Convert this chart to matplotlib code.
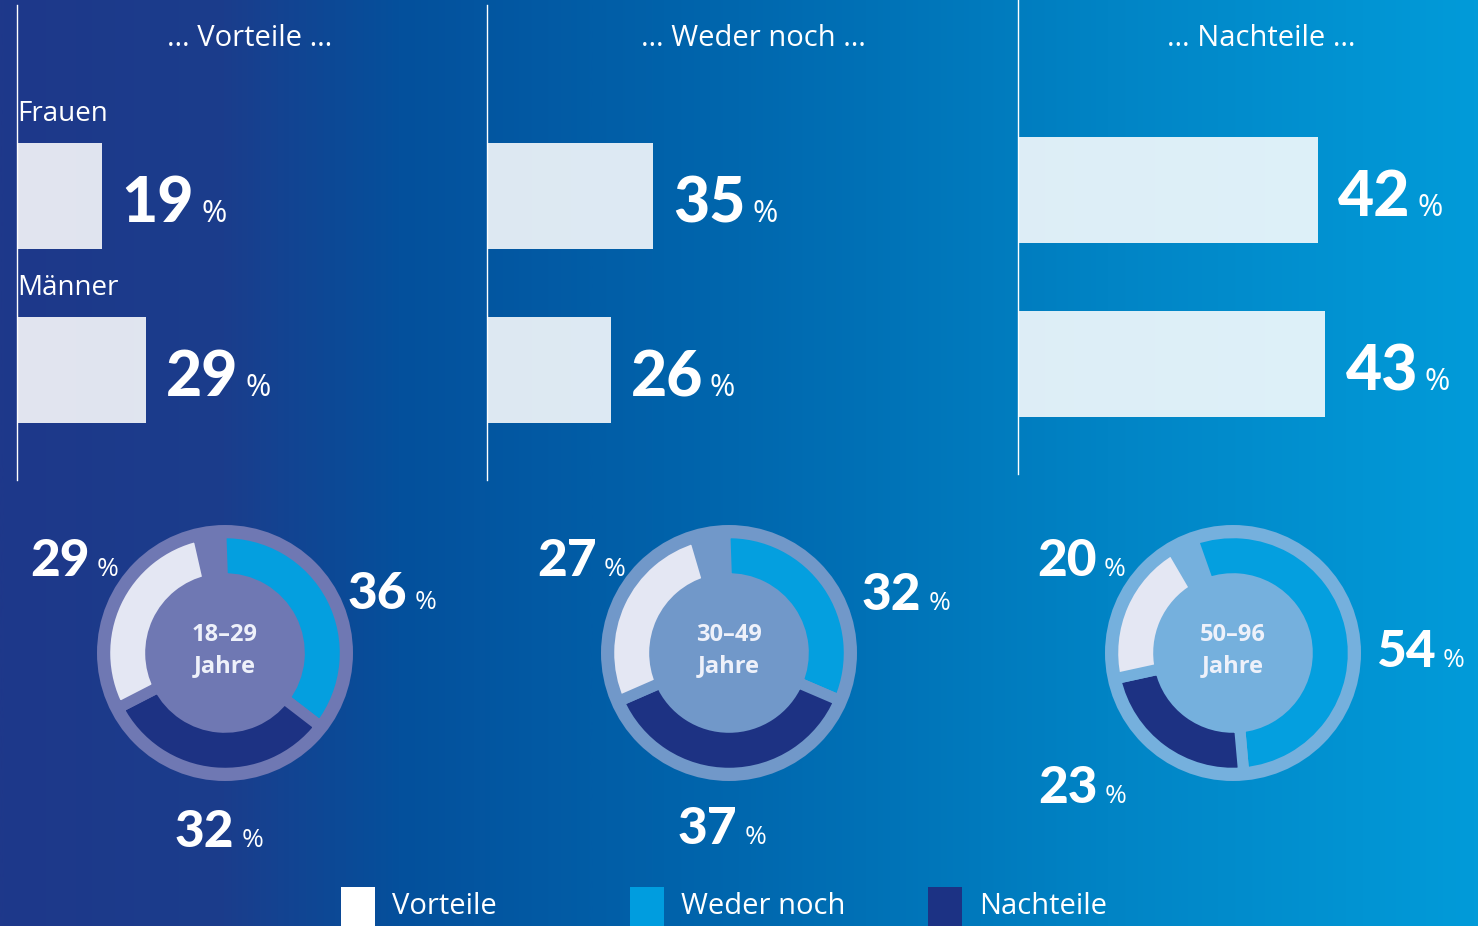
import matplotlib
matplotlib.use('Agg')
import matplotlib.pyplot as plt
import numpy as np
from matplotlib.colors import LinearSegmentedColormap
from matplotlib.patches import Circle, Rectangle

# data
answers = ['Vorteile', 'Weder noch', 'Nachteile']
genders = ['Frauen', 'Männer']
gender_values = {
    'Vorteile': [19, 29],
    'Weder noch': [35, 26],
    'Nachteile': [42, 43],
}
age_groups = ['18–29\nJahre', '30–49\nJahre', '50–96\nJahre']
vorteile_age = [29, 27, 20]
weder_age = [36, 32, 54]
nachteile_age = [32, 37, 23]

W, H = 1478, 926
plt.rcParams['font.family'] = ['Open Sans', 'DejaVu Sans']
num_font = ['Lato', 'DejaVu Sans']

c_white = '#e4e7f3'
c_cyan = '#049fdf'
c_navy = '#1d3283'
txt = 'white'

fig = plt.figure(figsize=(W / 100, H / 100), dpi=100)


def px_axes(x0, y0, w, h):
    # axes placed in pixel coords, y from top
    return fig.add_axes([x0 / W, 1 - (y0 + h) / H, w / W, h / H])


# background gradient
bg = px_axes(0, 0, W, H)
cmap = LinearSegmentedColormap.from_list('bg', [
    (0.0, '#1e388a'), (0.15, '#1b3d8c'), (0.27, '#04509c'),
    (0.5, '#0067ae'), (0.75, '#0184c5'), (1.0, '#029bd9')])
grad = np.linspace(0, 1, 512)[None, :]
bg.imshow(grad, cmap=cmap, aspect='auto', extent=[0, W, H, 0])
bg.set_xlim(0, W)
bg.set_ylim(H, 0)
bg.axis('off')

renderer = fig.canvas.get_renderer()


def value_label(x, y, value, size, pct_size, gap=7):
    # big bold number plus small % sign, x/y in background pixel coords (baseline)
    t = bg.text(x, y, str(value), fontsize=size, fontweight=900, color=txt,
                family=num_font, ha='left', va='baseline')
    bb = t.get_window_extent(renderer=renderer)
    xr, _ = bg.transData.inverted().transform((bb.x1 + gap, bb.y0))
    bg.text(xr, y, '%', fontsize=pct_size, color=txt, ha='left', va='baseline')


# bar panels
panel_x = [17, 487, 1018]
panel_dy = [0, 0, -6]
panel_scale = [4.45, 4.75, 7.15]   # px per percent
panel_w = 440
to_bg = bg.transData.inverted()
for i, ans in enumerate(answers):
    ax = px_axes(panel_x[i], 5 + panel_dy[i], panel_w, 475)
    vals = gender_values[ans]
    y = np.arange(len(genders))
    ax.barh(y, vals, height=0.61, color='white', alpha=0.87, linewidth=0)
    ax.set_xlim(0, panel_w / panel_scale[i])
    ax.set_ylim(1.632, -1.098)
    for s in ['top', 'right', 'bottom']:
        ax.spines[s].set_visible(False)
    ax.spines['left'].set_color('white')
    ax.spines['left'].set_linewidth(1.0)
    ax.set_xticks([])
    ax.set_yticks([])
    ax.patch.set_alpha(0)
    for j, v in enumerate(vals):
        bx, by = to_bg.transform(ax.transData.transform((v, j)))
        value_label(bx + 20, by + 26, v, 45, 22)
    # panel title
    cx = [250, 753, 1261][i]
    bg.text(cx, 39, '… ' + ans + ' …', fontsize=21, color=txt,
            ha='center', va='center')

bg.text(17, 114, genders[0], fontsize=20, color=txt, ha='left', va='center')
bg.text(17, 288, genders[1], fontsize=20, color=txt, ha='left', va='center')

# donuts
donut_cx = [225, 729, 1233]
donut_cy = 653
ring_cols = ['#6f78b3', '#7198c9', '#75b0dd']
start_angles = [92, 92, 109.5]
R = 128.0
size = 300
lim = size / 2 / R
# label anchors (pixel offsets from center: left x, baseline y) for weder, nachteile, vorteile
label_pos = [
    [(123, -44), (-50, 194), (-195, -77)],
    [(133, -43), (-51, 191), (-192, -77)],
    [(143, 14), (-195, 150), (-196, -77)],
]
for k in range(3):
    ax = px_axes(donut_cx[k] - size / 2, donut_cy - size / 2, size, size)
    ax.set_xlim(-lim, lim)
    ax.set_ylim(-lim, lim)
    ax.set_aspect('equal')
    ax.axis('off')
    ax.add_patch(Circle((0, 0), 1.0, color=ring_cols[k], lw=0))
    vals = [weder_age[k], nachteile_age[k], vorteile_age[k]]
    ax.pie([v / 100 for v in vals], colors=[c_cyan, c_navy, c_white],
           startangle=start_angles[k], counterclock=False, normalize=False,
           radius=0.94,
           wedgeprops=dict(width=0.36, edgecolor=ring_cols[k], linewidth=8))
    ax.set_xlim(-lim, lim)
    ax.set_ylim(-lim, lim)
    ax.text(0, 0.02, age_groups[k], fontsize=17, fontweight='bold',
            color='#eef1fa', ha='center', va='center', linespacing=1.4)
    for v, (dx, dy) in zip(vals, label_pos[k]):
        value_label(donut_cx[k] + dx, donut_cy + dy, v, 37, 19)

# legend
leg_x = [341, 630, 928]
leg_cols = ['white', '#009ddf', '#1c3284']
for x, col, lab in zip(leg_x, leg_cols, answers):
    bg.add_patch(Rectangle((x, 887), 34, 60, color=col, lw=0))
    bg.text(x + 51, 907, lab, fontsize=21, color=txt, ha='left', va='center')

fig.savefig('out.png', dpi=100)
